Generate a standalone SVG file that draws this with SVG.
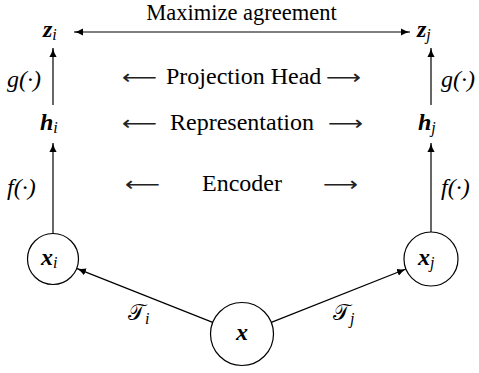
<svg xmlns="http://www.w3.org/2000/svg" width="479" height="373" viewBox="0 0 479 373">
<defs>
<marker id="ah" viewBox="0 0 10 8" refX="10" refY="4" markerWidth="9" markerHeight="7.2" markerUnits="userSpaceOnUse" orient="auto-start-reverse">
<path d="M0,0 Q5,3 10,4 Q5,5 0,8 z" fill="#000"/>
</marker>
</defs>
<style>
.t{font-size:24px;fill:#000}
.m{font-style:italic;font-weight:bold;font-size:24px;fill:#000}
.fn{font-style:italic;font-size:24px;fill:#000}
.s{font-style:italic;font-weight:normal;font-size:16px}
.ar{font-size:20px;fill:#222}
.e{stroke:#000;stroke-width:1.2;fill:none}
.n{fill:#fff;stroke:#000;stroke-width:1.2}
.cal{font-size:22px;fill:#000}
</style>
<rect width="479" height="373" fill="#fff"/>

<g id="connectors">
<line class="e" x1="74" y1="32" x2="410" y2="32" marker-start="url(#ah)" marker-end="url(#ah)"/>
<line class="e" x1="53" y1="105" x2="53" y2="48" marker-end="url(#ah)"/>
<line class="e" x1="431" y1="105" x2="431" y2="48" marker-end="url(#ah)"/>
<line class="e" x1="53" y1="233.5" x2="53" y2="143" marker-end="url(#ah)"/>
<line class="e" x1="431" y1="232" x2="431" y2="143" marker-end="url(#ah)"/>
<line class="e" x1="212.7" y1="322.4" x2="77" y2="268.6" marker-end="url(#ah)"/>
<line class="e" x1="271.3" y1="322.4" x2="406" y2="269" marker-end="url(#ah)"/>
</g>

<g id="title">
<text class="t" font-family="Liberation Serif" x="241.5" y="20" text-anchor="middle" font-size="22.5" style="font-size:22.5px">Maximize agreement</text>
</g>

<g id="node-zi"><text class="m" font-family="Liberation Serif" x="43" y="37">z<tspan class="s" dy="3">i</tspan></text></g>
<g id="node-zj"><text class="m" font-family="Liberation Serif" x="417" y="37">z<tspan class="s" dy="3">j</tspan></text></g>
<g id="node-hi"><text class="m" font-family="Liberation Serif" x="40" y="130">h<tspan class="s" dy="3">i</tspan></text></g>
<g id="node-hj"><text class="m" font-family="Liberation Serif" x="418" y="130">h<tspan class="s" dy="3">j</tspan></text></g>

<g id="node-xi">
<circle class="n" cx="53" cy="259" r="25.5"/>
<text class="m" font-family="Liberation Serif" x="41" y="265">x<tspan class="s" dy="3">i</tspan></text>
</g>
<g id="node-xj">
<circle class="n" cx="431" cy="259" r="27"/>
<text class="m" font-family="Liberation Serif" x="418" y="265">x<tspan class="s" dy="3">j</tspan></text>
</g>
<g id="node-x">
<circle class="n" cx="242" cy="334" r="31.5"/>
<text class="m" font-family="Liberation Serif" x="242" y="340" text-anchor="middle">x</text>
</g>

<g id="edge-labels">
<text class="fn" font-family="Liberation Serif" x="7" y="87">g(·)</text>
<text class="fn" font-family="Liberation Serif" x="441" y="87">g(·)</text>
<text class="fn" font-family="Liberation Serif" x="7" y="195">f(·)</text>
<text class="fn" font-family="Liberation Serif" x="441" y="195">f(·)</text>
<text class="cal" font-family="DejaVu Serif, Noto Sans, serif" x="128" y="320">𝒯<tspan class="s" dy="4" font-family="Liberation Serif">i</tspan></text>
<text class="cal" font-family="DejaVu Serif, Noto Sans, serif" x="333" y="320">𝒯<tspan class="s" dy="4" font-family="Liberation Serif">j</tspan></text>
</g>

<g id="stage-labels">
<text class="ar" font-family="DejaVu Sans" x="122" y="84" textLength="35" lengthAdjust="spacingAndGlyphs">⟵</text>
<text class="t" font-family="Liberation Serif" x="166" y="84">Projection Head</text>
<text class="ar" font-family="DejaVu Sans" x="326" y="84" textLength="35" lengthAdjust="spacingAndGlyphs">⟶</text>
<text class="ar" font-family="DejaVu Sans" x="122" y="130" textLength="35" lengthAdjust="spacingAndGlyphs">⟵</text>
<text class="t" font-family="Liberation Serif" x="242" y="130" text-anchor="middle">Representation</text>
<text class="ar" font-family="DejaVu Sans" x="328" y="130" textLength="35" lengthAdjust="spacingAndGlyphs">⟶</text>
<text class="ar" font-family="DejaVu Sans" x="125" y="191" textLength="35" lengthAdjust="spacingAndGlyphs">⟵</text>
<text class="t" font-family="Liberation Serif" x="242" y="191" text-anchor="middle">Encoder</text>
<text class="ar" font-family="DejaVu Sans" x="323" y="191" textLength="35" lengthAdjust="spacingAndGlyphs">⟶</text>
</g>
</svg>
